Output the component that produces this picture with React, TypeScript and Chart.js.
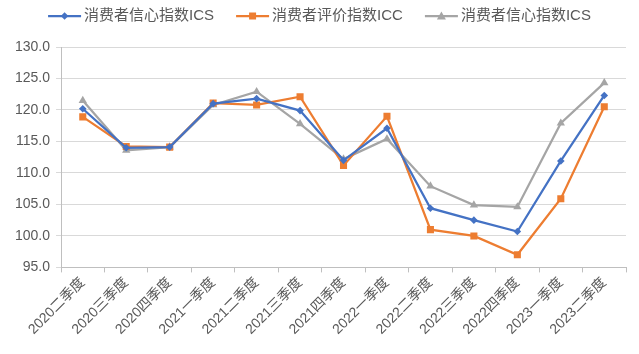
import React, { useEffect, useRef } from "react";
import { Chart, registerables } from "chart.js";

Chart.register(...registerables);

const categories = [
  "2020二季度", "2020三季度", "2020四季度", "2021一季度", "2021二季度", "2021三季度",
  "2021四季度", "2022一季度", "2022二季度", "2022三季度", "2022四季度", "2023一季度", "2023二季度",
];
const icsA = [120.2, 114.0, 114.1, 121.0, 121.8, 119.9, 112.0, 117.1, 104.4, 102.5, 100.7, 111.9, 122.3];
const icc = [118.9, 114.2, 114.1, 121.1, 120.8, 122.1, 111.2, 119.0, 101.0, 100.0, 97.0, 105.9, 120.5];
const icsB = [121.5, 113.6, 114.1, 120.8, 122.9, 117.8, 112.2, 115.4, 107.9, 104.9, 104.6, 117.9, 124.3];
const seriesNames = ["消费者信心指数ICS", "消费者评价指数ICC", "消费者信心指数ICS"];
const colors = ["#4472C4", "#ED7D31", "#A5A5A5"];
const styles = ["rectRot", "rect", "triangle"];
const radii = [3.8, 5, 4.8];

const FONT = "'Liberation Sans', 'Noto Sans CJK SC', sans-serif";

function drawMarker(ctx: CanvasRenderingContext2D, style: string, x: number, y: number) {
  ctx.beginPath();
  if (style === "rectRot") {
    ctx.moveTo(x, y - 3.8); ctx.lineTo(x + 3.8, y); ctx.lineTo(x, y + 3.8); ctx.lineTo(x - 3.8, y);
  } else if (style === "rect") {
    ctx.rect(x - 3.5, y - 3.5, 7, 7);
  } else {
    ctx.moveTo(x, y - 4.5); ctx.lineTo(x + 4.5, y + 3.5); ctx.lineTo(x - 4.5, y + 3.5);
  }
  ctx.closePath();
  ctx.fill();
}

const legendPlugin = {
  id: "customLegend",
  afterDraw(chart: any) {
    const ctx: CanvasRenderingContext2D = chart.ctx;
    ctx.save();
    ctx.font = `15px ${FONT}`;
    const lineLen = 33;
    const gap = 3;
    const spacing = 22;
    const widths = seriesNames.map((t) => lineLen + gap + ctx.measureText(t).width);
    const total = widths.reduce((a, b) => a + b, 0) + spacing * (widths.length - 1);
    let x = (chart.width - total) / 2;
    const y = 16;
    seriesNames.forEach((t, i) => {
      ctx.strokeStyle = colors[i];
      ctx.fillStyle = colors[i];
      ctx.lineWidth = 2.25;
      ctx.beginPath();
      ctx.moveTo(x, y);
      ctx.lineTo(x + lineLen, y);
      ctx.stroke();
      drawMarker(ctx, styles[i], x + lineLen / 2, y);
      ctx.fillStyle = "#595959";
      ctx.textBaseline = "middle";
      ctx.textAlign = "left";
      ctx.fillText(t, x + lineLen + gap, y);
      x += widths[i] + spacing;
    });
    ctx.restore();
  },
};

export default function App() {
  const ref = useRef<HTMLCanvasElement>(null);
  useEffect(() => {
    document.body.style.margin = "0";
    const data = [icsA, icc, icsB];
    const chart = new Chart(ref.current!, {
      type: "line",
      data: {
        labels: categories,
        datasets: data.map((d, i) => ({
          label: seriesNames[i],
          data: d,
          borderColor: colors[i],
          backgroundColor: colors[i],
          borderWidth: 2.25,
          pointStyle: styles[i] as any,
          pointRadius: radii[i],
          pointBorderWidth: 0,
          tension: 0,
        })),
      },
      plugins: [legendPlugin],
      options: {
        animation: false,
        responsive: false,
        maintainAspectRatio: false,
        layout: { padding: { left: 9, right: 13, top: 47, bottom: 14 } },
        plugins: {
          tooltip: { enabled: false },
          legend: { display: false },
        },
        scales: {
          x: {
            offset: true,
            grid: {
              offset: true,
              drawOnChartArea: false,
              drawTicks: true,
              tickLength: 5,
              color: "#BFBFBF",
            },
            border: { color: "#BFBFBF" },
            ticks: {
              color: "#595959",
              font: { family: FONT, size: 14 },
              maxRotation: 45,
              minRotation: 45,
              autoSkip: false,
              padding: 2,
            },
          },
          y: {
            min: 95,
            max: 130,
            grid: { color: "#D9D9D9", tickLength: 5, drawTicks: true },
            border: { color: "#BFBFBF" },
            ticks: {
              stepSize: 5,
              color: "#595959",
              font: { family: FONT, size: 14 },
              callback: (v: any) => Number(v).toFixed(1),
              padding: 6,
            },
          },
        },
      },
    });
    return () => chart.destroy();
  }, []);
  return <canvas ref={ref} width={639} height={354} style={{ display: "block" }} />;
}
